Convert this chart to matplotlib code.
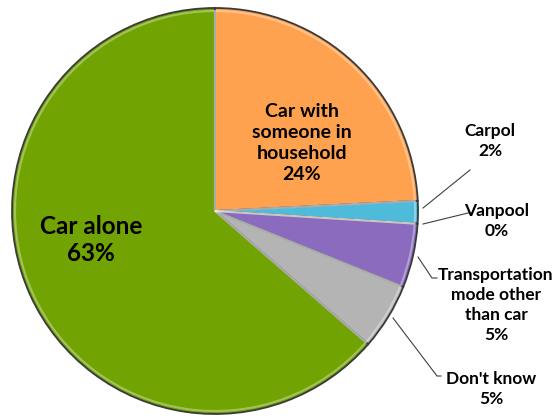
import matplotlib.pyplot as plt

labels = ['Car with\nsomeone in\nhousehold', 'Carpol', 'Vanpool',
          'Transportation\nmode other\nthan car', "Don't know", 'Car alone']
shares = [24.2, 1.8, 0.0, 5.1, 5.3, 63.6]
pct_text = ['24%', '2%', '0%', '5%', '5%', '63%']
colors = ['#FFA24F', '#4DBBD9', '#8A6BBE', '#8A6BBE', '#B4B4B4', '#71A303']

plt.rcParams['font.family'] = ['Lato', 'DejaVu Sans']

fig = plt.figure(figsize=(5.55, 4.16), dpi=100)
ax = fig.add_axes([0, 0, 1, 1])

cx, cy, r = 215, 211, 203
# y axis is flipped below, so start at -90 and go "counterclock" in data
# to get a clockwise pie starting at 12 o'clock on screen
wedges, _ = ax.pie(shares, colors=colors, startangle=-90, counterclock=True,
                   center=(cx, cy), radius=r, frame=True,
                   wedgeprops=dict(edgecolor='#3a3a3a', linewidth=1.3))
# soft inner highlight for the bevelled look
ax.pie(shares, colors=['none'] * len(shares), startangle=-90, counterclock=True,
       center=(cx, cy), radius=r - 3, frame=True,
       wedgeprops=dict(edgecolor=(1, 1, 1, 0.35), linewidth=1.5, fill=False))
ax.set_xlim(0, 555)
ax.set_ylim(416, 0)
ax.axis('off')

# inner labels
ax.text(302, 143, labels[0] + '\n' + pct_text[0], ha='center', va='center',
        fontsize=14, fontweight='bold', linespacing=1.28)
ax.text(91, 240, labels[5] + '\n' + pct_text[5], ha='center', va='center',
        fontsize=17.5, fontweight='bold', linespacing=1.25)

# outer labels with leader lines
outer = [
    (1, (490, 141), [(423, 208), (470, 170)]),
    (2, (497, 221), [(423, 224), (468, 213), (472, 213)]),
    (3, (496, 305), [(418, 257), (432, 278), (437, 278)]),
    (4, (491, 389), [(393, 318), (437, 376), (441, 376)]),
]
for i, (tx, ty), pts in outer:
    xs, ys = zip(*pts)
    ax.plot(xs, ys, color='#404040', lw=0.8)
    ax.text(tx, ty, labels[i] + '\n' + pct_text[i], ha='center', va='center',
            fontsize=12.5, fontweight='bold', linespacing=1.3)

fig.savefig('out.png', dpi=100)
